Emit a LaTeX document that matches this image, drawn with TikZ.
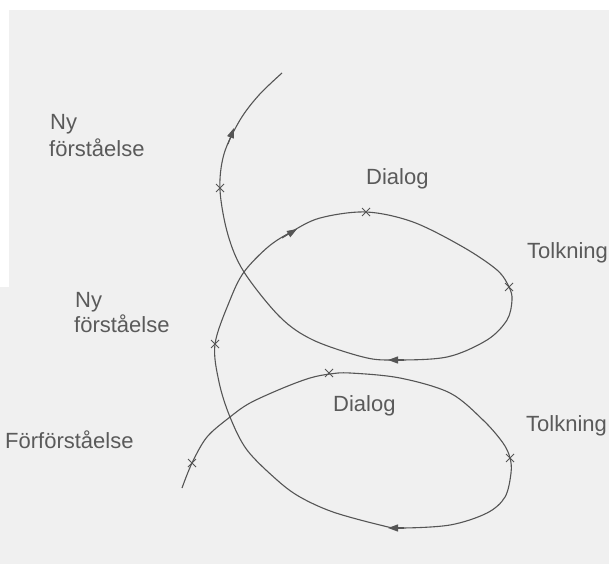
\documentclass[tikz,border=0pt]{standalone}
\usepackage{fontspec}
\setmainfont{Liberation Sans}
\usetikzlibrary{arrows.meta,shapes.misc}
\definecolor{bg}{HTML}{F0F0F0}
\definecolor{ink}{HTML}{555555}
\definecolor{txt}{HTML}{5A5A5A}
\begin{document}
\begin{tikzpicture}[x=1pt,y=-1pt,
  curve/.style={draw=ink, line width=1.1pt, line join=round},
  xmark/.style={cross out, draw=ink, line width=1pt, minimum size=7pt, inner sep=0pt},
  tipmark/.style={draw=ink, fill=ink, line width=1.1pt, -{Triangle[length=10pt,width=7pt]}},
  lbl/.style={text=txt, font=\fontsize{22}{26}\selectfont, anchor=base west, inner sep=0pt}]
\useasboundingbox (0,0) rectangle (609,564);
\fill[white] (0,0) rectangle (609,564);
\fill[bg] (9,10) rectangle (609,564);
\fill[bg] (0,287) rectangle (9,564);
% spiral
\draw[curve] plot[smooth, tension=0.55] coordinates {
 (182,488) (192,463) (207,437) (230,417) (250,403) (283,388) (310,378) (330,374) (350,373)
 (400,378) (450,393) (483,420) (503,443) (510,458) (511,473) (505,497) (487,513) (450,525)
 (400,528) (380,525) (333,512) (300,497) (277,480) (247,450) (230,417) (219,382) (215,344)
 (230,300) (244,272) (268,247) (291,232) (320,218) (366,212) (413,222) (463,247) (497,270)
 (509,287) (512,300) (507,320) (487,340) (447,357) (393,360) (363,357) (313,340) (280,317)
 (244,272) (228,235) (220,190) (224,154) (240,120) (259,95) (282,73)};
% crosses
\node[xmark] (c1) at (192,463) {};
\node[xmark] (c2) at (329,373) {};
\node[xmark] (c3) at (510,458) {};
\node[xmark] (c4) at (215,344) {};
\node[xmark] (c5) at (366,212) {};
\node[xmark] (c6) at (509,287) {};
\node[xmark] (c7) at (220,188) {};
% arrowheads
\coordinate (a1s) at (228,144); \coordinate (a1e) at (234,128);
\coordinate (a2s) at (282,238); \coordinate (a2e) at (297,229);
\coordinate (a3s) at (404,360); \coordinate (a3e) at (388,360);
\coordinate (a4s) at (404,528); \coordinate (a4e) at (388,528);
\draw[tipmark] (a1s) -- (a1e);
\draw[tipmark] (a2s) -- (a2e);
\draw[tipmark] (a3s) -- (a3e);
\draw[tipmark] (a4s) -- (a4e);
% labels
\node[lbl] (ny1a) at (50,130) {Ny};
\node[lbl] (ny1b) at (49,157) {förståelse};
\node[lbl] (ny2a) at (75,307) {Ny};
\node[lbl] (ny2b) at (74,332) {förståelse};
\node[lbl] (ff) at (5,448) {Förförståelse};
\node[lbl] (d1) at (366,184) {Dialog};
\node[lbl] (d2) at (333,411) {Dialog};
\node[lbl] (t1) at (527,258) {Tolkning};
\node[lbl] (t2) at (526,431) {Tolkning};
\end{tikzpicture}
\end{document}
